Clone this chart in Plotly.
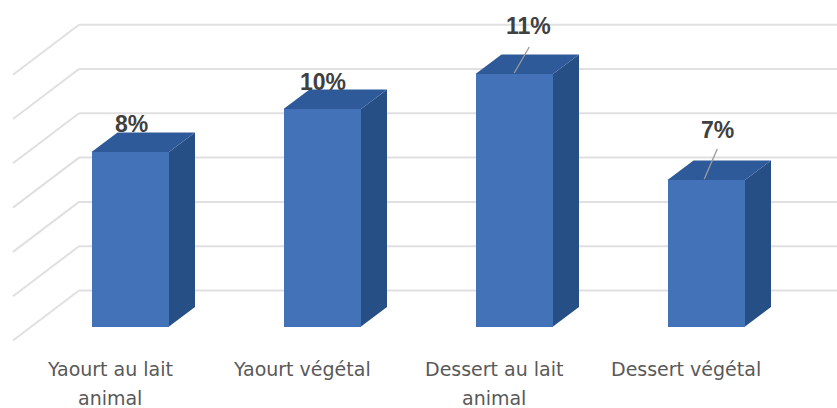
import plotly.graph_objects as go

categories = ["Yaourt au lait<br>animal", "Yaourt végétal", "Dessert au lait<br>animal", "Dessert végétal"]
values = [7.88, 9.82, 11.4, 6.61]
labels = ["8%", "10%", "11%", "7%"]
grid_ticks = [0, 2, 4, 6, 8, 10, 12]

W, H = 837, 408
PX_X = 192.0      # px per category
PX_Y = 22.15      # px per percentage point
X0_PX = 130.25    # px of first category centre
Y0_PX = 326.5     # px of value 0 on bars' front plane
BAR_W = 77.5 / PX_X
DX = 26 / PX_X
DY = 19.5 / PX_Y

def xv(px):
    return (px - X0_PX) / PX_X

def yv(px):
    return (Y0_PX - px) / PX_Y

fig = go.Figure()

# wall and floor gridlines, under the traces
wall_base = yv(290.5)
floor_drop = 50 / PX_Y
shapes = []
grid_line = dict(color="#E0E0E0", width=2)
for t in grid_ticks:
    y = t + wall_base
    shapes.append(dict(type="line", layer="below", x0=xv(13), y0=y - floor_drop, x1=xv(79), y1=y, line=grid_line))
    shapes.append(dict(type="line", layer="below", x0=xv(79), y0=y, x1=xv(W), y1=y, line=grid_line))

# front faces
fig.add_trace(go.Bar(
    x=list(range(len(values))), y=values, width=BAR_W,
    marker=dict(color="#4472B8", line=dict(width=0)), showlegend=False))

# side and top faces from the values
for i, v in enumerate(values):
    l, r = i - BAR_W / 2, i + BAR_W / 2
    fig.add_trace(go.Scatter(
        x=[r, r + DX, r + DX, r, r], y=[0, DY, v + DY, v, 0],
        mode="lines", fill="toself", fillcolor="#264F85", line=dict(width=0),
        hoverinfo="skip", showlegend=False))
    fig.add_trace(go.Scatter(
        x=[l, l + DX, r + DX, r, l], y=[v, v + DY, v + DY, v, v],
        mode="lines", fill="toself", fillcolor="#2F5A99", line=dict(width=0),
        hoverinfo="skip", showlegend=False))

# data labels, px offset from the bar's top-centre
label_offset = [(1, 28), (1, 27), (14, 48), (11, 50)]
leader = [None, None, ((0, 1), (15, 27)), ((-2, 1), (11, 31))]
annotations = []
for i, (v, lab, off) in enumerate(zip(values, labels, label_offset)):
    annotations.append(dict(
        x=i, y=v, text="<b>" + lab + "</b>", showarrow=False, xshift=off[0], yshift=off[1],
        xanchor="center", yanchor="middle",
        font=dict(family="Liberation Sans", size=23, color="#404040")))
    if leader[i]:
        a, b = leader[i]
        fig.add_trace(go.Scatter(
            x=[i + a[0] / PX_X, i + b[0] / PX_X],
            y=[v + a[1] / PX_Y, v + b[1] / PX_Y], mode="lines",
            line=dict(color="#9A9A9A", width=1.3), hoverinfo="skip", showlegend=False))

# category labels, one annotation per line
for i, cat in enumerate(categories):
    for j, line in enumerate(cat.split("<br>")):
        annotations.append(dict(
            x=i - 20 / PX_X, y=yv(369 + j * 29), text=line, showarrow=False,
            xanchor="center", yanchor="middle",
            font=dict(family="DejaVu Sans", size=19, color="#595959")))

fig.update_layout(
    width=W, height=H, margin=dict(l=0, r=0, t=0, b=0),
    paper_bgcolor="white", plot_bgcolor="white",
    xaxis=dict(range=[xv(0), xv(W)], visible=False, fixedrange=True),
    yaxis=dict(range=[yv(H), yv(0)], visible=False, fixedrange=True),
    annotations=annotations, shapes=shapes, bargap=0, showlegend=False)

fig.write_html("out.html", config={"displayModeBar": False},
               post_script="document.body.style.margin='0';document.body.style.overflow='hidden';")
